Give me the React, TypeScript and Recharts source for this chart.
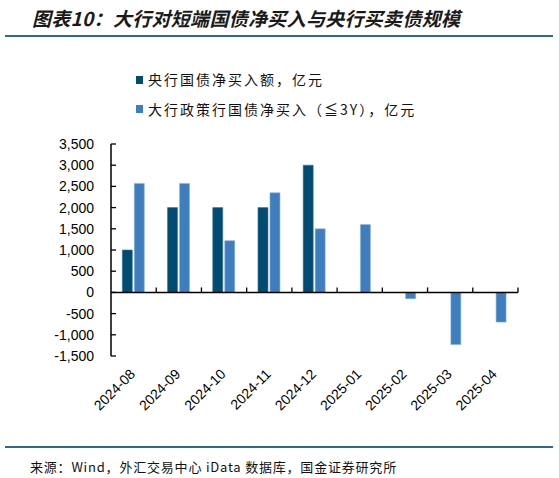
import { Bar, BarChart, ReferenceLine, XAxis, YAxis } from "recharts"

const categories = ['2024-08', '2024-09', '2024-10', '2024-11', '2024-12', '2025-01', '2025-02', '2025-03', '2025-04']
const pbocNetBuy = [1000, 2000, 2000, 2000, 3000, null, null, null, null]
const bigBankShortBuy = [2570, 2570, 1220, 2350, 1500, 1600, -150, -1230, -700]
const yTicks = [-1500, -1000, -500, 0, 500, 1000, 1500, 2000, 2500, 3000, 3500]

const data = categories.map((name, i) => ({ name, pboc: pbocNetBuy[i], bank: bigBankShortBuy[i] }))

// plot area layout
const PLOT_TOP = 144
const PLOT_BOTTOM = 356
const PLOT_LEFT = 111
const PLOT_RIGHT = 518
const BAND = (PLOT_RIGHT - PLOT_LEFT) / categories.length
const ZERO_Y = PLOT_TOP + (3500 / 5000) * (PLOT_BOTTOM - PLOT_TOP)

const DARK = '#004b72'
const LIGHT = '#3e7ebf'
const CJK = '"Noto Sans CJK SC", "Noto Sans", sans-serif'

const XTick = (props: any) => {
  const { x, payload } = props
  const bx = x + BAND / 2
  const tx = x + 2.5
  const ty = PLOT_BOTTOM + 19
  return (
    <g>
      <line x1={bx} x2={bx} y1={ZERO_Y} y2={ZERO_Y - 5} stroke="#000" strokeWidth={1.3} />
      <text
        x={tx}
        y={ty}
        transform={`rotate(-45 ${tx} ${ty})`}
        textAnchor="end"
        fontSize={14}
        fontFamily="'Liberation Sans', Arial, sans-serif"
        fill="#000"
      >
        {payload.value}
      </text>
    </g>
  )
}

const YTick = (props: any) => {
  const { y, payload } = props
  return (
    <g>
      <line x1={PLOT_LEFT} x2={PLOT_LEFT + 5} y1={y} y2={y} stroke="#000" strokeWidth={1.3} />
      <text
        x={PLOT_LEFT - 17}
        y={y}
        dy={5}
        textAnchor="end"
        fontSize={14}
        fontFamily="'Liberation Sans', Arial, sans-serif"
        fill="#000"
      >
        {Number(payload.value).toLocaleString('en-US')}
      </text>
    </g>
  )
}

export default function App() {
  return (
    <div style={{ position: 'absolute', left: 0, top: 0, width: 559, height: 478, background: '#fff', overflow: 'hidden' }}>
      <div
        style={{
          position: 'absolute', left: 32, top: 4, fontFamily: CJK, fontSize: 19, fontWeight: 700,
          fontStyle: 'italic', color: '#1a1a1a', whiteSpace: 'nowrap', letterSpacing: 0.3
        }}
      >
        图表10：大行对短端国债净买入与央行买卖债规模
      </div>
      <div style={{ position: 'absolute', left: 5, top: 35, width: 548, height: 2, background: '#2c6a8a' }} />

      {/* legend */}
      <div style={{ position: 'absolute', left: 136, top: 76, width: 7, height: 8, background: DARK }} />
      <div style={{ position: 'absolute', left: 148, top: 69, fontFamily: CJK, fontSize: 14, letterSpacing: 2, color: '#111', whiteSpace: 'nowrap' }}>
        央行国债净买入额，亿元
      </div>
      <div style={{ position: 'absolute', left: 136, top: 105, width: 7, height: 8, background: LIGHT }} />
      <div style={{ position: 'absolute', left: 148, top: 99, fontFamily: CJK, fontSize: 14, letterSpacing: 2, color: '#111', whiteSpace: 'nowrap' }}>
        大行政策行国债净买入（≦3Y），亿元
      </div>

      <div style={{ position: 'absolute', left: 0, top: 0 }}>
        <BarChart
          width={559}
          height={478}
          data={data}
          margin={{ top: PLOT_TOP, right: 559 - PLOT_RIGHT, left: 0, bottom: 478 - PLOT_BOTTOM - 60 }}
          barCategoryGap="25%"
          barGap={2}
        >
          <XAxis dataKey="name" height={60} axisLine={false} tickLine={false} tick={<XTick />} interval={0} />
          <YAxis
            width={PLOT_LEFT}
            domain={[-1500, 3500]}
            ticks={yTicks}
            interval={0}
            axisLine={{ stroke: '#000', strokeWidth: 1.5 }}
            tickLine={false}
            tick={<YTick />}
          />
          <Bar dataKey="pboc" fill={DARK} stroke="#3f7394" strokeWidth={0.6} isAnimationActive={false} />
          <Bar dataKey="bank" fill={LIGHT} stroke="#8db3da" strokeWidth={0.6} isAnimationActive={false} />
          <ReferenceLine y={0} stroke="#000" strokeWidth={1.5} />
        </BarChart>
      </div>

      <div style={{ position: 'absolute', left: 5, top: 446, width: 548, height: 2, background: '#2c6a8a' }} />
      <div style={{ position: 'absolute', left: 30, top: 457, fontFamily: CJK, fontSize: 13, letterSpacing: 0.8, color: '#111', whiteSpace: 'nowrap' }}>
        来源：Wind，外汇交易中心 iData 数据库，国金证券研究所
      </div>
    </div>
  )
}
